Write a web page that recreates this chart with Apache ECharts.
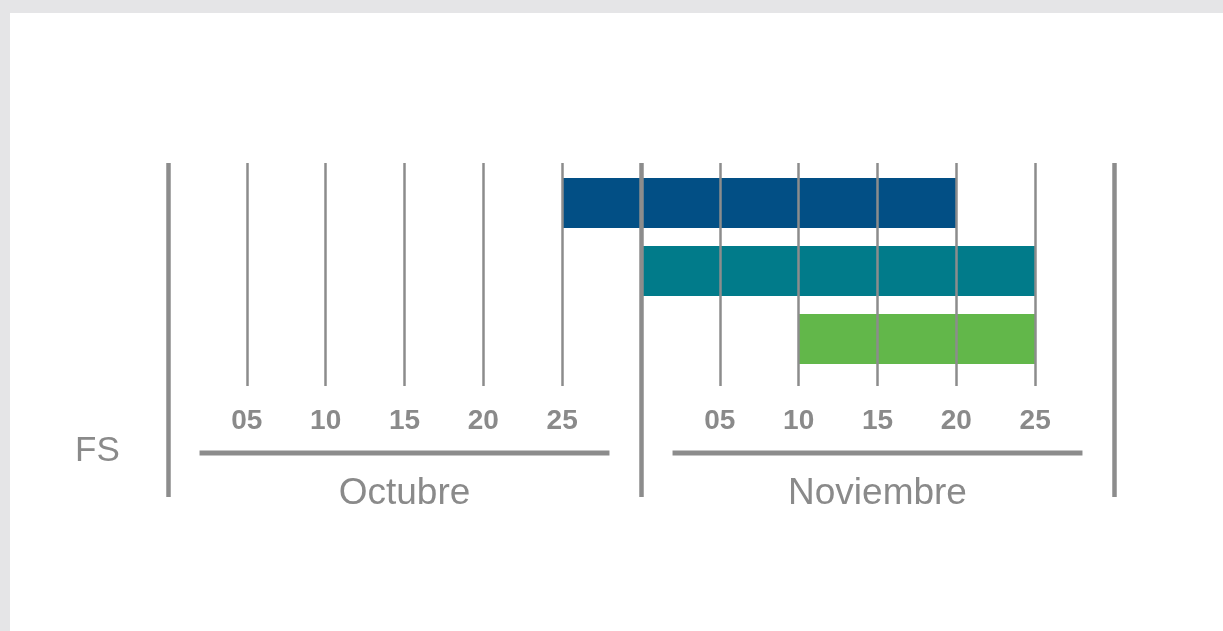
<!DOCTYPE html>
<html>
<head>
<meta charset="utf-8">
<script src="https://cdn.jsdelivr.net/npm/echarts@6/dist/echarts.min.js"></script>
<style>
  html, body { margin: 0; padding: 0; background: #e5e5e7; }
  #panel { position: absolute; left: 10px; top: 13px; right: 0; bottom: 0; background: #ffffff; }
  #chart { position: absolute; left: 0; top: 0; width: 1223px; height: 631px; }
</style>
</head>
<body>
<div id="panel"></div>
<div id="chart"></div>
<script>
// ---- data ----
const rowLabel = 'FS';
const monthLabels = ['Octubre', 'Noviembre'];
const dayTicks = ['05', '10', '15', '20', '25'];
const daysPerMonth = 30;                    // each month drawn as 30 units wide
const tasks = ['Tarea 1', 'Tarea 2', 'Tarea 3'];
// start / end in axis units (Oct day d = d, Nov day d = 30 + d)
const taskStart = [25, 30, 40];
const taskEnd = [50, 55, 55];
const taskColors = ['#024f85', '#017b8a', '#62b74a'];
// month underline spans (axis units)
const monthSpans = [[2, 28], [32, 58]];

// ---- derived ----
const axisMax = daysPerMonth * monthLabels.length;
const dayTickValues = [];
for (let m = 0; m < monthLabels.length; m++) {
  for (let i = 0; i < dayTicks.length; i++) dayTickValues.push(m * daysPerMonth + (i + 1) * 5);
}
const monthCenters = monthLabels.map((_, i) => i * daysPerMonth + daysPerMonth / 2);
const taskDur = taskEnd.map((e, i) => e - taskStart[i]);

const gray = '#8c8c8c';
const txt = '#8a8a8a';
const font = '"Liberation Sans", Arial, Helvetica, sans-serif';

const chart = echarts.init(document.getElementById('chart'), null, { renderer: 'canvas' });
const L = 168, R = 1223 - 1114;

chart.setOption({
  animation: false,
  backgroundColor: 'transparent',
  title: {
    text: rowLabel, left: 70, top: 429,
    textStyle: { color: txt, fontSize: 35, fontWeight: 'normal', fontFamily: font }
  },
  grid: [
    { left: L, right: R, top: 163, bottom: 631 - 386 },   // thin gridlines + day labels
    { left: L, right: R, top: 163, bottom: 631 - 497 },   // month separators + month labels
    { left: L, right: R, top: 169, bottom: 631 - 373 }    // bars
  ],
  xAxis: [
    {
      gridIndex: 0, type: 'value', min: 0, max: axisMax, interval: 5,
      axisLine: { show: false }, axisTick: { show: false },
      splitLine: { show: true, lineStyle: { color: gray, width: 2.5 } },
      axisLabel: {
        customValues: dayTickValues, margin: 21,
        color: txt, fontSize: 28, fontWeight: 'bold', fontFamily: font,
        formatter: v => dayTicks[Math.round((v % daysPerMonth) / 5) - 1]
      }
    },
    {
      gridIndex: 1, type: 'value', min: 0, max: axisMax, interval: daysPerMonth,
      axisLine: { show: false }, axisTick: { show: false },
      splitLine: { show: true, lineStyle: { color: gray, width: 4.5 } },
      axisLabel: {
        customValues: monthCenters, margin: -22,
        color: txt, fontSize: 37, fontFamily: font,
        formatter: v => monthLabels[Math.floor(v / daysPerMonth)]
      }
    },
    {
      gridIndex: 2, type: 'value', min: 0, max: axisMax, show: false
    }
  ],
  yAxis: [
    { gridIndex: 0, type: 'value', min: 0, max: 1, show: false },
    { gridIndex: 1, type: 'value', min: 0, max: 1, show: false },
    { gridIndex: 2, type: 'category', data: tasks, inverse: true, show: false }
  ],
  series: [
    {
      type: 'bar', xAxisIndex: 2, yAxisIndex: 2, stack: 'g', z: -1,
      barWidth: 50, itemStyle: { color: 'transparent' },
      data: taskStart, silent: true
    },
    {
      type: 'bar', xAxisIndex: 2, yAxisIndex: 2, stack: 'g', z: -1,
      barWidth: 50,
      data: taskDur.map((d, i) => ({ value: d, itemStyle: { color: taskColors[i] } }))
    },
    {
      type: 'custom', xAxisIndex: 1, yAxisIndex: 1,
      data: monthSpans,
      renderItem: function (params, api) {
        const a = api.coord([api.value(0), 0]);
        const b = api.coord([api.value(1), 0]);
        const y = a[1] - 44;
        return {
          type: 'line',
          shape: { x1: a[0], y1: y, x2: b[0], y2: y },
          style: { stroke: gray, lineWidth: 5 }
        };
      }
    }
  ]
});
</script>
</body>
</html>
